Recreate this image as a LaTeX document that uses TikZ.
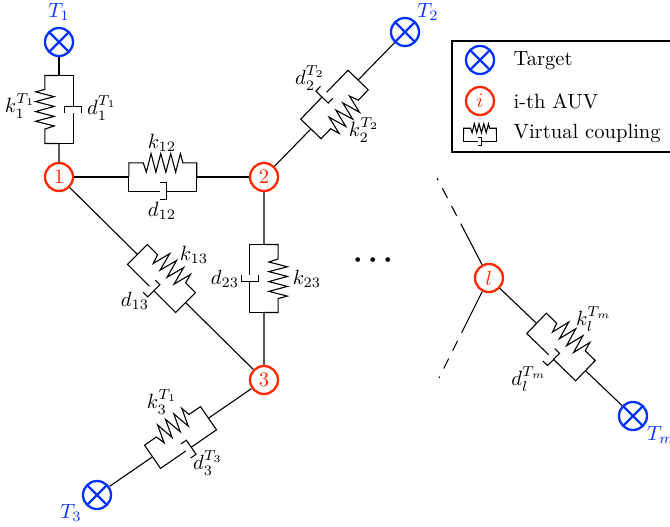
\documentclass[tikz,border=0pt]{standalone}
\usepackage{amsmath, amssymb}
\usepackage{tikz}
\usetikzlibrary{positioning, calc}
\definecolor{TargetBlue}{RGB}{4, 51, 255}
\definecolor{AuvRed}{RGB}{255, 38, 0}
\tikzset{
  pics/coupling/.style={code={
    \draw (-33,0) coordinate (-l) -- (-33,13.7) -- (-19,13.7) -- ++(3,-9) -- ++(4.6,18) -- ++(4.7,-18) -- ++(4.7,18) -- ++(5,-18) -- ++(4.7,18) -- ++(4.8,-18) -- ++(4.6,18) -- ++(2.4,-9) -- (33,13.7) -- (33,0) coordinate (-r);
    \draw (-33,0) -- (-33,-13.7) -- (-3.2,-13.7);
    \draw (33,0) -- (33,-13.7) -- (3.2,-13.7);
    \draw (-3.2,-5.4) -- (3.2,-5.4) -- (3.2,-22) -- (-3.2,-22);
  }}
}
\begin{document}
\begin{tikzpicture}[
    x=0.5pt, y=0.5pt,
    line width=0.55pt,
    every node/.style={scale=1.03},
    target/.style={circle, draw=TargetBlue, line width=1.15pt, minimum size=13.6pt, inner sep=0pt,
      path picture={\draw[TargetBlue, line width=1.15pt] (path picture bounding box.north west) -- (path picture bounding box.south east) (path picture bounding box.north east) -- (path picture bounding box.south west);}},
    auv/.style={circle, draw=AuvRed, text=AuvRed, line width=1.15pt, minimum size=13.6pt, inner sep=0pt},
    tlabel/.style={text=TargetBlue, inner sep=0pt},
    clabel/.style={inner sep=0pt},
    legtext/.style={anchor=base west, inner sep=0pt},
    fading/.style={dash pattern=on 23pt off 4.5pt on 5.5pt off 4.5pt on 5.5pt off 4.5pt on 1.2pt off 100pt}
  ]
    \useasboundingbox (0,0) rectangle (670,526);

    \node[target] (T1) at (59,484) {};
    \node[target] (T2) at (405,494) {};
    \node[target] (T3) at (97,31) {};
    \node[target] (Tm) at (633,110) {};
    \node[auv] (n1) at (59,349) {1};
    \node[auv] (n2) at (264,349) {2};
    \node[auv] (n3) at (264,146) {3};
    \node[auv] (nl) at (489,248) {$l$};
    \coordinate (lup) at (436,350);
    \coordinate (ldown) at (439,148);

    \pic[rotate=90] (c1) at ($(n1)!0.5!(T1)$) {coupling};
    \pic (c12) at (162.8,349) {coupling};
    \pic[rotate=-90] (c23) at ($(n2)!0.5!(n3)$) {coupling};
    \pic[rotate=-45] (c13) at ($(n1)!0.5!(n3)$) {coupling};
    \pic[rotate=-134] (c2) at ($(n2)!0.5!(T2)$) {coupling};
    \pic[rotate=34.6] (c3) at ($(n3)!0.5!(T3)$) {coupling};
    \pic[rotate=-44] (cl) at ($(nl)!0.5!(Tm)$) {coupling};

    \draw (n1) -- (c1-l);
    \draw (T1) -- (c1-r);
    \draw (n1) -- (c12-l);
    \draw (n2) -- (c12-r);
    \draw (n2) -- (c23-l);
    \draw (n3) -- (c23-r);
    \draw (n1) -- (c13-l);
    \draw (n3) -- (c13-r);
    \draw (T2) -- (c2-l);
    \draw (n2) -- (c2-r);
    \draw (T3) -- (c3-l);
    \draw (n3) -- (c3-r);
    \draw (nl) -- (cl-l);
    \draw (Tm) -- (cl-r);
    \draw[fading] (nl) -- (lup);
    \draw[fading] (nl) -- (ldown);

    \node[tlabel] (lT1) at (59,514) {$T_1$};
    \node[tlabel] (lT2) at (428,514) {$T_2$};
    \node[tlabel] (lT3) at (71,13) {$T_3$};
    \node[tlabel, anchor=west] (lTm) at (646.5,91) {$T_m$};

    \node[clabel] (k1) at (20,420) {$k_1^{T_1}$};
    \node[clabel] (d1) at (102,418) {$d_1^{T_1}$};
    \node[clabel] (k12) at (162,383) {$k_{12}$};
    \node[clabel] (d12) at (162,315) {$d_{12}$};
    \node[clabel] (k13) at (194,271) {$k_{13}$};
    \node[clabel] (d13) at (135,225) {$d_{13}$};
    \node[clabel] (d23) at (225,247) {$d_{23}$};
    \node[clabel] (k23) at (307,247) {$k_{23}$};
    \node[clabel] (d2) at (310,448) {$d_2^{T_2}$};
    \node[clabel] (k2) at (364,396) {$k_2^{T_2}$};
    \node[clabel] (k3) at (162,124) {$k_3^{T_1}$};
    \node[clabel] (d3) at (208,63) {$d_3^{T_3}$};
    \node[clabel] (kl) at (594,207) {$k_l^{T_m}$};
    \node[clabel] (dl) at (529,147) {$d_l^{T_m}$};

    \node[clabel] (dots) at (376,266) {\Large $\boldsymbol{\cdots}$};

    \draw[line width=1.3pt] (452,374) rectangle (690,485);
    \node[target] (legT) at (480,466) {};
    \node[auv] (legA) at (480,425) {$i$};
    \pic[scale=0.48] (legC) at (480,391) {coupling};
    \node[legtext] (txtT) at (513,460) {Target};
    \node[legtext] (txtA) at (513,418) {i-th AUV};
    \node[legtext] (txtC) at (513,387) {Virtual coupling};
\end{tikzpicture}
\end{document}
